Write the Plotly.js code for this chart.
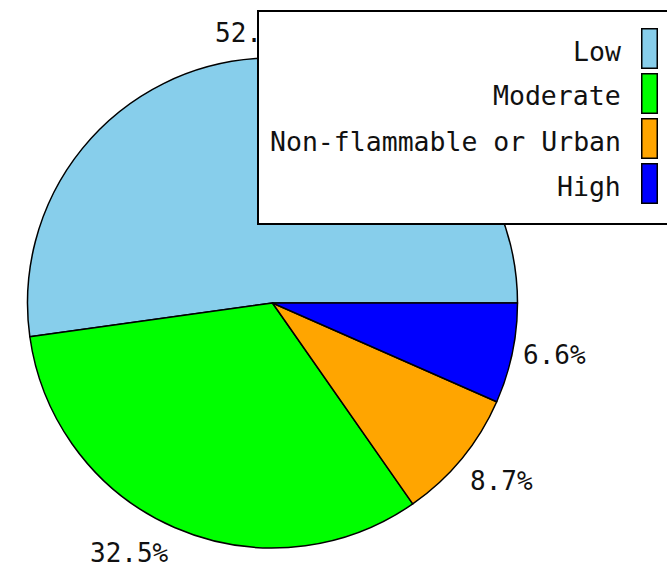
<!DOCTYPE html>
<html><head><meta charset="utf-8">
<script src="https://cdn.plot.ly/plotly-3.0.1.min.js"></script>
<style>html,body{margin:0;padding:0;background:#fff}#chart{width:667px;height:570px}</style>
</head><body><div id="chart"></div>
<script>
const categories = ["Low", "Moderate", "Non-flammable or Urban", "High"];
const values = [52.2, 32.5, 8.7, 6.6];
const colors = ["#87CEEB", "#00FF00", "#FFA500", "#0000FF"];

const W = 667, H = 570;
const px = x => x / W, py = y => 1 - y / H;
const FONT = "DejaVu Sans Mono, Liberation Mono, monospace";

// pie geometry (pixels)
const CX = 272.5, CY = 303, R = 245, LABEL_R = 255;
const total = values.reduce((a, b) => a + b, 0);

const trace = {
  type: "pie",
  labels: categories,
  values: values,
  sort: false,
  direction: "counterclockwise",
  rotation: 90 - values[0] / total * 360,   // first slice starts at 3 o'clock
  marker: {colors: colors, line: {color: "#000", width: 1.5}},
  textinfo: "none",
  hoverinfo: "label+percent",
  showlegend: false,
  domain: {x: [px(CX - R), px(CX + R)], y: [py(CY + R), py(CY - R)]}
};

const annotations = [];
// percentage labels placed around the pie at each slice's mid-angle
let cum = 0;
values.forEach((v, i) => {
  const mid = (cum + v / 2) / total * 2 * Math.PI;
  cum += v;
  const c = Math.cos(mid), s = Math.sin(mid);
  annotations.push({
    xref: "paper", yref: "paper",
    x: px(CX + LABEL_R * c), y: py(CY - LABEL_R * s),
    xanchor: Math.abs(c) < 0.3 ? "center" : (c > 0 ? "left" : "right"),
    yanchor: Math.abs(s) < 0.3 ? "middle" : (s > 0 ? "bottom" : "top"),
    showarrow: false, borderpad: 0,
    text: (v / total * 100).toFixed(1) + "%",
    font: {family: FONT, size: 26, color: "#111"}
  });
});

// custom legend (symbols on the right), drawn after labels so it covers them
annotations.push({
  xref: "paper", yref: "paper", x: px(257), y: py(10),
  xanchor: "left", yanchor: "top", showarrow: false,
  text: " ", width: 440, height: 211, borderpad: 0,
  bgcolor: "#fff", bordercolor: "#000", borderwidth: 2
});
const rowTop = [28, 73, 118, 163];
categories.forEach((cat, i) => {
  annotations.push({
    xref: "paper", yref: "paper", x: px(641), y: py(rowTop[i]),
    xanchor: "left", yanchor: "top", showarrow: false,
    text: " ", width: 14, height: 38, borderpad: 0,
    bgcolor: colors[i], bordercolor: "#000", borderwidth: 1.5
  });
  annotations.push({
    xref: "paper", yref: "paper", x: px(623), y: py(rowTop[i] + 23),
    xanchor: "right", yanchor: "middle", showarrow: false,
    text: cat, font: {family: FONT, size: 26.5, color: "#111"}
  });
});

const layout = {
  width: W, height: H,
  margin: {l: 0, r: 0, t: 0, b: 0},
  paper_bgcolor: "#fff",
  showlegend: false,
  annotations: annotations
};
Plotly.newPlot("chart", [trace], layout, {displayModeBar: false, staticPlot: true});
</script></body></html>
